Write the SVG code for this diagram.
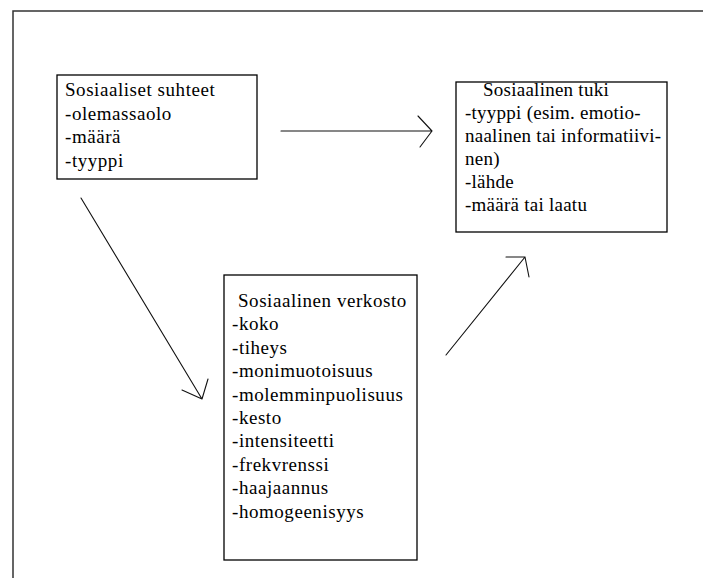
<svg xmlns="http://www.w3.org/2000/svg" width="703" height="578" viewBox="0 0 703 578">
<style>
.box{fill:#fff;stroke:#000;stroke-width:1.3}
.frame{fill:none;stroke:#333;stroke-width:1.5}
.t{font-family:"Liberation Serif","Times New Roman",serif;font-size:19px;fill:#000;letter-spacing:0.55px}
.t3{letter-spacing:0.25px}
.c{fill:none;stroke:#111;stroke-width:1.1;stroke-linecap:round;stroke-linejoin:round}
</style>
<rect width="703" height="578" fill="#fff"/>
<path class="frame" d="M13,578 V11 H703"/>
<g id="connectors">
<path class="c" d="M281,131 H432 M418,116 L432,131 L420,147"/>
<path class="c" d="M81,198 L202,399 M182,390 L202,399 L208,379"/>
<path class="c" d="M446,355 L525,257 M506,257 L525,257 L529,277"/>
</g>
<g id="sosiaaliset-suhteet">
<rect class="box" x="57" y="75" width="200" height="104"/>
<text class="t"><tspan x="65" y="96">Sosiaaliset suhteet</tspan><tspan x="65" y="119.5">-olemassaolo</tspan><tspan x="65" y="143">-määrä</tspan><tspan x="65" y="166.5">-tyyppi</tspan></text>
</g>
<g id="sosiaalinen-tuki">
<rect class="box" x="456" y="82" width="211" height="150"/>
<text class="t t3"><tspan x="483" y="96">Sosiaalinen tuki</tspan><tspan x="465" y="119">-tyyppi (esim. emotio-</tspan><tspan x="465" y="142">naalinen tai informatiivi-</tspan><tspan x="465" y="165">nen)</tspan><tspan x="465" y="188">-lähde</tspan><tspan x="465" y="211">-määrä tai laatu</tspan></text>
</g>
<g id="sosiaalinen-verkosto">
<rect class="box" x="224" y="275" width="193" height="285"/>
<text class="t"><tspan x="238" y="307">Sosiaalinen verkosto</tspan><tspan x="232" y="330.4">-koko</tspan><tspan x="232" y="353.8">-tiheys</tspan><tspan x="232" y="377.2">-monimuotoisuus</tspan><tspan x="232" y="400.6">-molemminpuolisuus</tspan><tspan x="232" y="424">-kesto</tspan><tspan x="232" y="447.4">-intensiteetti</tspan><tspan x="232" y="470.8">-frekvrenssi</tspan><tspan x="232" y="494.2">-haajaannus</tspan><tspan x="232" y="517.6">-homogeenisyys</tspan></text>
</g>
</svg>
